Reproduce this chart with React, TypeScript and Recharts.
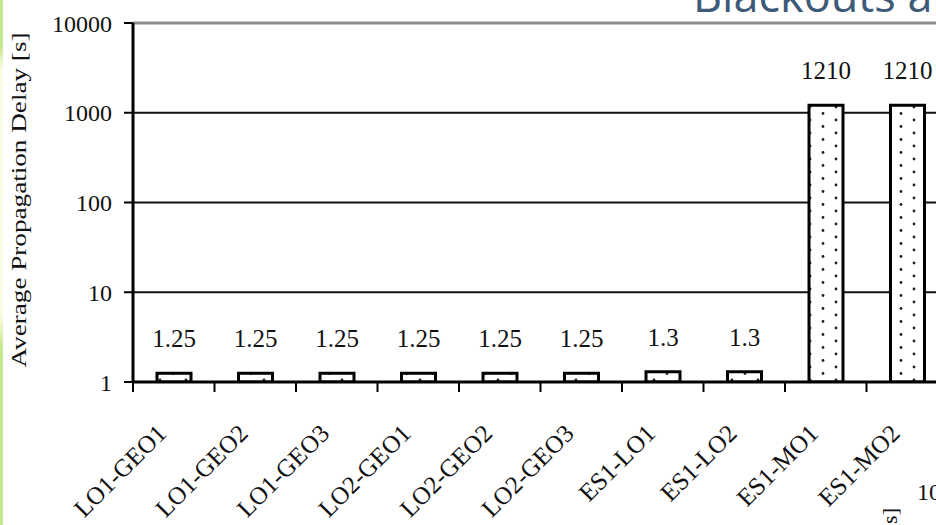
import { BarChart, Bar, XAxis, YAxis, CartesianGrid, ReferenceLine, LabelList } from 'recharts'

// values (log scale, seconds)
const CATEGORIES = ['LO1-GEO1', 'LO1-GEO2', 'LO1-GEO3', 'LO2-GEO1', 'LO2-GEO2', 'LO2-GEO3', 'ES1-LO1', 'ES1-LO2', 'ES1-MO1', 'ES1-MO2']
const DELAYS = [1.25, 1.25, 1.25, 1.25, 1.25, 1.25, 1.3, 1.3, 1210, 1210]
const Y_TICKS = [1, 10, 100, 1000, 10000]

const data = CATEGORIES.map((name, i) => ({ name, delay: DELAYS[i] }))

const CHART_W = 960
const CHART_H = 525
const PLOT_LEFT = 133
const PLOT_RIGHT = 948
const BAND = (PLOT_RIGHT - PLOT_LEFT) / CATEGORIES.length
const SERIF = '"Liberation Serif", "Times New Roman", serif'

function CategoryTick({ x, y, payload }: any) {
  const edge = x - BAND / 2
  const ax = x - 6
  const ay = y + 43
  return (
    <g>
      <line x1={edge} y1={y - 10} x2={edge} y2={y} stroke="#000" strokeWidth={2} />
      <text
        x={ax}
        y={ay}
        transform={`rotate(-45, ${ax}, ${ay})`}
        textAnchor="end"
        fontFamily={SERIF}
        fontSize={25}
        fill="#111"
      >
        {payload.value}
      </text>
    </g>
  )
}

function AxisTitle() {
  return (
    <text
      x={26}
      y={200}
      transform="rotate(-90, 26, 200)"
      textAnchor="middle"
      fontFamily={SERIF}
      fontSize={22}
      textLength={335}
      lengthAdjust="spacingAndGlyphs"
      fill="#111"
    >
      Average Propagation Delay [s]
    </text>
  )
}

export default function App() {
  return (
    <div style={{ position: 'absolute', left: 0, top: 0, width: 936, height: 525, overflow: 'hidden', background: '#fff' }}>
      <div
        style={{
          position: 'absolute',
          left: 0,
          top: 0,
          width: 3,
          height: 525,
          background: 'linear-gradient(#c6e890 0%, #c6e890 9%, #fbfbe2 13%, #fbfbe2 60%, #c6e890 66%, #c6e890 100%)',
        }}
      />
      <BarChart
        width={CHART_W}
        height={CHART_H}
        data={data}
        margin={{ top: 23, right: CHART_W - PLOT_RIGHT, left: 0, bottom: 0 }}
        barSize={34}
      >
        <defs>
          <pattern id="dots" width="26" height="13" patternUnits="userSpaceOnUse">
            <rect width="26" height="13" fill="#fff" />
            <circle cx="4" cy="3" r="1.4" fill="#222" />
            <circle cx="17" cy="9.5" r="1.4" fill="#222" />
          </pattern>
        </defs>
        <CartesianGrid vertical={false} stroke="#111" strokeWidth={2} />
        <ReferenceLine y={10000} stroke="#8c8c8c" strokeWidth={3} />
        <XAxis
          dataKey="name"
          interval={0}
          height={143}
          axisLine={{ stroke: '#000', strokeWidth: 3 }}
          tickLine={false}
          tickSize={10}
          tickMargin={0}
          tick={<CategoryTick />}
        />
        <YAxis
          scale="log"
          domain={[1, 10000]}
          ticks={Y_TICKS}
          allowDataOverflow
          width={PLOT_LEFT}
          axisLine={{ stroke: '#000', strokeWidth: 3 }}
          tickLine={{ stroke: '#000', strokeWidth: 2 }}
          tickSize={9}
          tickMargin={12}
          tick={{ fontFamily: SERIF, fontSize: 24, fill: '#111' }}
          label={{ content: () => <AxisTitle /> }}
        />
        <Bar dataKey="delay" fill="url(#dots)" stroke="#000" strokeWidth={3} isAnimationActive={false}>
          <LabelList dataKey="delay" position="top" offset={26} fontFamily={SERIF} fontSize={25} fill="#111" />
        </Bar>
      </BarChart>
      <svg width={936} height={525} style={{ position: 'absolute', left: 0, top: 0, pointerEvents: 'none' }}>
        <text x={693} y={12} fontFamily='"Open Sans", sans-serif' fontSize={45} fill="#3d5a78">
          Blackouts and
        </text>
        <text x={917} y={500} fontFamily={SERIF} fontSize={24} fill="#111">
          10
        </text>
        <text x={897} y={508} transform="rotate(-90, 897, 508)" textAnchor="end" fontFamily={SERIF} fontSize={22} fill="#111">
          Delay [s]
        </text>
      </svg>
    </div>
  )
}
